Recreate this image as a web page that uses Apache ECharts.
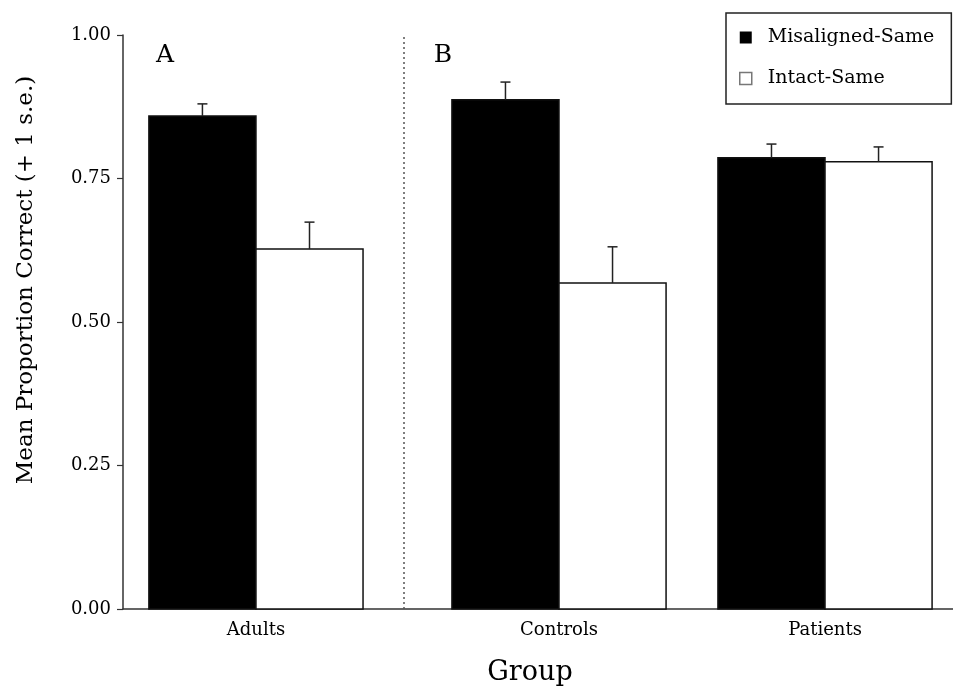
<!DOCTYPE html>
<html>
<head>
<meta charset="utf-8">
<script src="https://cdn.jsdelivr.net/npm/echarts@6/dist/echarts.min.js"></script>
<style>
html,body{margin:0;padding:0;background:#fff;}
#chart{width:953px;height:691px;}
</style>
</head>
<body>
<div id="chart"></div>
<script>
// ---- data ----
const categories = ['Adults', 'Controls', 'Patients'];
const seriesNames = ['Misaligned-Same', 'Intact-Same'];
const misalignedMean = [0.859, 0.887, 0.786];
const misalignedUpper = [0.880, 0.918, 0.810];
const intactMean = [0.627, 0.568, 0.779];
const intactUpper = [0.674, 0.631, 0.805];
const yTicks = [0, 0.25, 0.5, 0.75, 1.0];
const panelLabels = ['A', 'B'];

// ---- layout (axis units on a 0..100 x scale) ----
const groupCenters = [16.02, 52.53, 84.58];
const barW = 12.9;
const dividerPos = 33.86;

const FONT = 'DejaVu Serif';

function makeRender(side, fill) {
  return function (params, api) {
    const gi = api.value(0);
    const mean = api.value(1);
    const upper = api.value(2);
    const c = groupCenters[gi];
    const x0 = side < 0 ? c - barW : c;
    const x1 = side < 0 ? c : c + barW;
    const p0 = api.coord([x0, mean]);
    const p1 = api.coord([x1, 0]);
    const mid = api.coord([(x0 + x1) / 2, upper]);
    const top = api.coord([(x0 + x1) / 2, mean]);
    return {
      type: 'group',
      children: [
        {
          type: 'rect',
          shape: { x: p0[0], y: p0[1], width: p1[0] - p0[0], height: p1[1] - p0[1] },
          style: { fill: fill, stroke: '#111', lineWidth: 1.5 }
        },
        {
          type: 'line',
          shape: { x1: mid[0], y1: top[1], x2: mid[0], y2: mid[1] },
          style: { stroke: '#222', lineWidth: 1.5 }
        },
        {
          type: 'line',
          shape: { x1: mid[0] - 5, y1: mid[1], x2: mid[0] + 5, y2: mid[1] },
          style: { stroke: '#222', lineWidth: 1.5 }
        }
      ]
    };
  };
}

const chart = echarts.init(document.getElementById('chart'), null, { renderer: 'canvas' });

const option = {
  backgroundColor: '#fff',
  animation: false,
  grid: { left: 123, right: 0, top: 35, bottom: 82, containLabel: false },
  legend: {
    orient: 'vertical',
    left: 726,
    top: 13,
    selectedMode: false,
    borderColor: '#222',
    borderWidth: 1.5,
    padding: [15, 17, 16, 13],
    itemGap: 22,
    itemWidth: 12,
    itemHeight: 12,
    textStyle: { fontFamily: FONT, fontSize: 19, color: '#000', padding: [0, 0, 0, 11] },
    data: [
      { name: seriesNames[0], icon: 'rect', itemStyle: { color: '#000', borderColor: '#000', borderWidth: 0 } },
      { name: seriesNames[1], icon: 'rect', itemStyle: { color: '#fff', borderColor: '#777', borderWidth: 1.5 } }
    ]
  },
  xAxis: {
    type: 'value',
    min: 0,
    max: 100,
    name: 'Group',
    nameLocation: 'middle',
    nameGap: 50,
    nameTextStyle: { fontFamily: FONT, fontSize: 27, color: '#000', padding: [0, 16, 0, 0] },
    splitLine: { show: false },
    axisLine: { show: true, onZero: false, lineStyle: { color: '#333', width: 1.5 } },
    axisTick: { show: false },
    axisLabel: {
      show: true,
      customValues: groupCenters,
      margin: 12,
      fontFamily: FONT,
      fontSize: 18,
      color: '#000',
      formatter: function (v) {
        for (let i = 0; i < groupCenters.length; i++) {
          if (Math.abs(groupCenters[i] - v) < 0.01) return categories[i];
        }
        return '';
      }
    }
  },
  yAxis: {
    type: 'value',
    min: 0,
    max: 1,
    interval: 0.25,
    splitLine: { show: false },
    axisLine: { show: true, lineStyle: { color: '#333', width: 1.5 } },
    axisTick: { show: true, length: 6, lineStyle: { color: '#333', width: 1.2 } },
    axisLabel: {
      margin: 12,
      fontFamily: FONT,
      fontSize: 18,
      color: '#000',
      formatter: function (v) { return v.toFixed(2); }
    }
  },
  graphic: [
    {
      type: 'text',
      x: 26, y: 280,
      rotation: Math.PI / 2,
      style: {
        text: 'Mean Proportion Correct (+ 1 s.e.)',
        fontFamily: FONT, fontSize: 23, fill: '#000',
        textAlign: 'center', textVerticalAlign: 'middle'
      }
    },
    {
      type: 'text', x: 165, y: 55,
      style: { text: panelLabels[0], fontFamily: FONT, fontSize: 25, fill: '#000', textAlign: 'center', textVerticalAlign: 'middle' }
    },
    {
      type: 'text', x: 443, y: 55,
      style: { text: panelLabels[1], fontFamily: FONT, fontSize: 25, fill: '#000', textAlign: 'center', textVerticalAlign: 'middle' }
    }
  ],
  series: [
    {
      name: seriesNames[0],
      type: 'custom',
      itemStyle: { color: '#000' },
      renderItem: makeRender(-1, '#000'),
      encode: { x: 0, y: [1, 2] },
      data: categories.map((c, i) => [i, misalignedMean[i], misalignedUpper[i]]),
      markLine: {
        silent: true,
        symbol: 'none',
        label: { show: false },
        lineStyle: { type: [2, 3], color: '#555', width: 1.5 },
        data: [{ xAxis: dividerPos }]
      }
    },
    {
      name: seriesNames[1],
      type: 'custom',
      itemStyle: { color: '#fff', borderColor: '#777' },
      renderItem: makeRender(1, '#fff'),
      encode: { x: 0, y: [1, 2] },
      data: categories.map((c, i) => [i, intactMean[i], intactUpper[i]])
    }
  ]
};
chart.setOption(option);
</script>
</body>
</html>
